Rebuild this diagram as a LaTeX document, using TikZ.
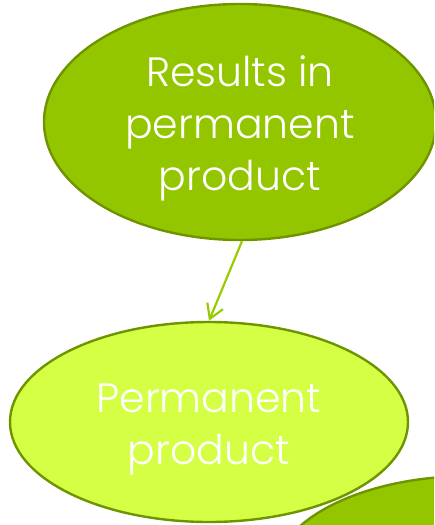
\documentclass[tikz,border=0pt]{standalone}
\usepackage{fontspec}
\setmainfont{Poppins Light}
\usetikzlibrary{shapes.geometric,arrows.meta}
\definecolor{leafgreen}{HTML}{94C600}
\definecolor{limegreen}{HTML}{D4FF45}
\definecolor{edgegreen}{HTML}{6E9400}
\definecolor{arrowgreen}{HTML}{99CC00}
\tikzset{
  bubble/.style={ellipse, draw=edgegreen, line width=2.4pt, inner sep=0pt},
  caption/.style={text=white, align=center, inner sep=0pt,
    font=\fontsize{41}{52}\selectfont},
  link/.style={draw=arrowgreen, line width=2.2pt,
    -{Straight Barb[length=14pt,width=17pt,line width=2.2pt]}}
}
\begin{document}
\begin{tikzpicture}[x=1pt,y=-1pt]
  \useasboundingbox (0,0) rectangle (434,525);
  \clip (0,0) rectangle (434,525);
  % ellipses
  \node[bubble, fill=leafgreen, minimum width=392pt, minimum height=236pt]
    (results) at (240,122) {};
  \node[bubble, fill=limegreen, minimum width=398pt, minimum height=200pt]
    (perm) at (209,422) {};
  \node[bubble, fill=leafgreen, minimum width=392pt, minimum height=200pt]
    (next) at (470,576) {};
  % texts
  \node[caption] (resultstext) at ([yshift=-6pt]results.center)
    {Results in\\permanent\\product};
  \node[caption] (permtext) at ([yshift=-7pt]perm.center)
    {Permanent\\product};
  % connector
  \draw[link] ([xshift=2pt]results.south) -- (perm.north);
\end{tikzpicture}
\end{document}
